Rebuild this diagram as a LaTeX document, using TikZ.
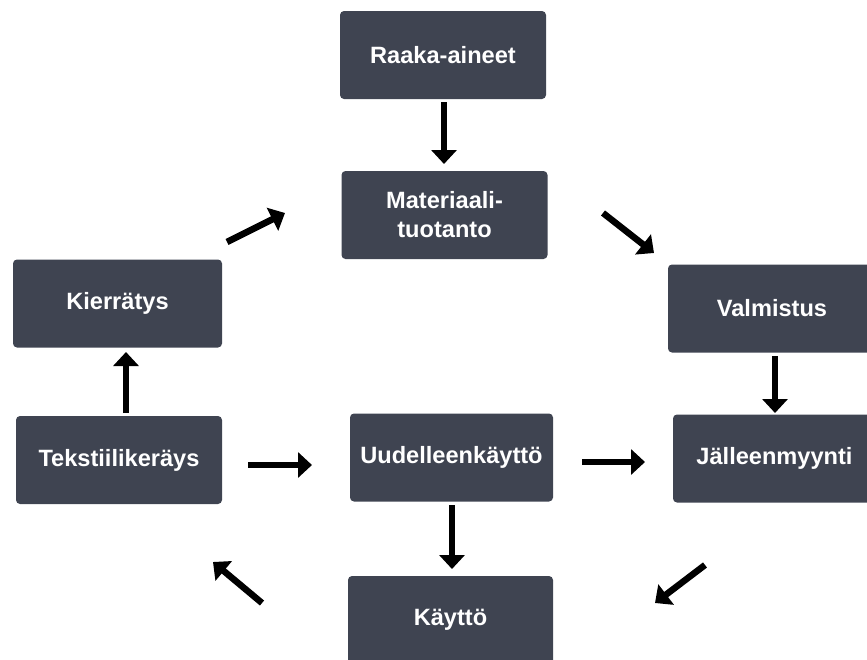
\documentclass[tikz,border=0pt]{standalone}
\usepackage{fontspec}
\setmainfont{Liberation Sans}
\usetikzlibrary{arrows.meta}
\definecolor{boxc}{HTML}{3F4451}
\begin{document}
\begin{tikzpicture}[x=1pt,y=-1pt,
  box/.style={fill=boxc, rounded corners=4pt, text=white,
    font=\fontsize{23.6}{29}\selectfont\bfseries, align=center,
    minimum width=206pt, minimum height=88pt, inner sep=0pt},
  arr/.style={line width=6.5pt, -{Triangle[width=25pt,length=14pt]}}]
\useasboundingbox (0,0) rectangle (867,659);
\clip (0,0) rectangle (867,659);
\node[box] (raaka) at (443,55) {Raaka-aineet};
\node[box] (mat) at (444.5,215) {Materiaali-\\tuotanto};
\node[box, minimum width=209pt] (kier) at (117.5,303.5) {Kierrätys};
\node[box, minimum width=208pt] (valm) at (772,308.5) {Valmistus};
\node[box] (teks) at (119,460) {Tekstiilikeräys};
\node[box, minimum width=203pt] (uud) at (451.5,457.5) {Uudelleenkäyttö};
\node[box, minimum width=203pt] (jall) at (774.5,458.5) {Jälleenmyynti};
\node[box, minimum width=205pt] (kayt) at (450.5,620) {Käyttö};
% arrow end points
\coordinate (a1s) at (444,102);  \coordinate (a1e) at (444,164);
\coordinate (a2s) at (227,242);  \coordinate (a2e) at (285,213);
\coordinate (a3s) at (603,213);  \coordinate (a3e) at (654,253);
\coordinate (a4s) at (775,356);  \coordinate (a4e) at (775,413);
\coordinate (a5s) at (126,413);  \coordinate (a5e) at (126,352);
\coordinate (a6s) at (248,465);  \coordinate (a6e) at (312,465);
\coordinate (a7s) at (582,462);  \coordinate (a7e) at (645,462);
\coordinate (a8s) at (452,505);  \coordinate (a8e) at (452,569);
\coordinate (a9s) at (705,565);  \coordinate (a9e) at (655,603);
\coordinate (a10s) at (262,603); \coordinate (a10e) at (213,562);
\draw[arr] (a1s) -- (a1e);
\draw[arr] (a2s) -- (a2e);
\draw[arr] (a3s) -- (a3e);
\draw[arr] (a4s) -- (a4e);
\draw[arr] (a5s) -- (a5e);
\draw[arr] (a6s) -- (a6e);
\draw[arr] (a7s) -- (a7e);
\draw[arr] (a8s) -- (a8e);
\draw[arr] (a9s) -- (a9e);
\draw[arr] (a10s) -- (a10e);
\end{tikzpicture}
\end{document}
